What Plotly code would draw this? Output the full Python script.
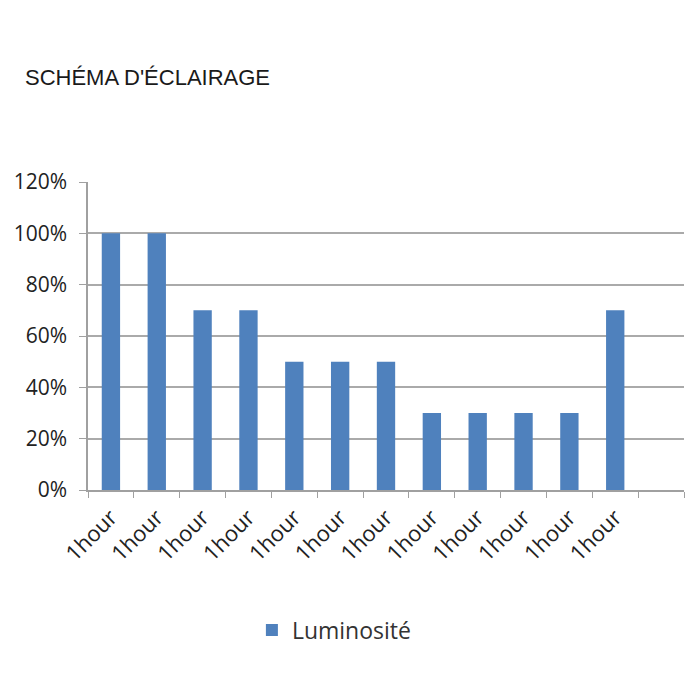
import plotly.graph_objects as go

categories = ["1hour"] * 12
values = [1.0, 1.0, 0.7, 0.7, 0.5, 0.5, 0.5, 0.3, 0.3, 0.3, 0.3, 0.7]
series_name = "Luminosité"
title_text = "SCHÉMA D'ÉCLAIRAGE"
y_ticks = [0, 0.2, 0.4, 0.6, 0.8, 1.0, 1.2]
y_ticktext = ["0%", "20%", "40%", "60%", "80%", "100%", "120%"]

x_pos = list(range(len(categories)))

fig = go.Figure()
fig.add_trace(go.Bar(
    x=x_pos, y=values, name=series_name,
    marker=dict(color="#4f81bd", line=dict(width=0)),
    width=0.4, showlegend=True,
))

fig.update_layout(
    width=700, height=700,
    paper_bgcolor="white", plot_bgcolor="white",
    margin=dict(l=88, r=16, t=182, b=210),
    title=dict(text=title_text, x=25/700, xanchor="left", y=1-77/700, yanchor="middle",
               font=dict(family="Liberation Sans, Arial", size=22, color="#1a1a1a")),
    showlegend=True,
    legend=dict(orientation="h", x=0.275, xanchor="left", y=-0.4545, yanchor="middle",
                font=dict(family="Open Sans", size=23, color="#333333")),
    font=dict(family="Open Sans", color="#222222"),
)
fig.update_xaxes(
    range=[-0.5, 12.5], tickmode="array", tickvals=x_pos, ticktext=categories,
    tickangle=-45, ticks="", tickfont=dict(size=22, color="#222222"),
    ticklabelstandoff=4,
    showline=True, linecolor="#a0a0a0", linewidth=1.5, showgrid=False, zeroline=False,
    minor=dict(tick0=0.5, dtick=1, ticks="outside", ticklen=6, tickcolor="#a0a0a0", showgrid=False),
)
fig.update_yaxes(
    range=[0, 1.2], tickmode="array", tickvals=y_ticks, ticktext=y_ticktext,
    ticks="outside", ticklen=7, tickcolor="#a0a0a0", ticklabelstandoff=8,
    tickfont=dict(size=21, color="#222222"),
    showline=True, linecolor="#a0a0a0", linewidth=1.5,
    showgrid=True, gridcolor="#aaaaaa", gridwidth=1.5, zeroline=False,
)

fig.write_html("out.html", config={"displayModeBar": False},
               post_script="document.body.style.margin='0';")
